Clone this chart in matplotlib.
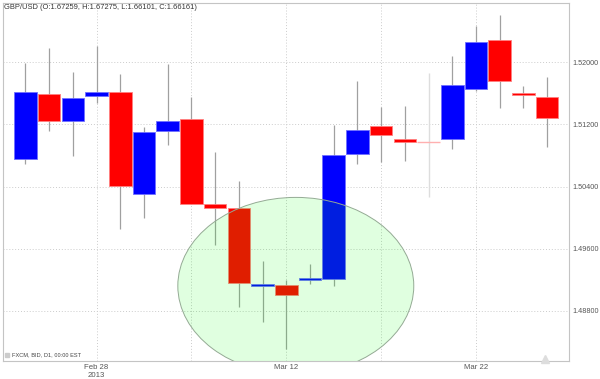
import matplotlib
matplotlib.use("Agg")
import matplotlib.pyplot as plt
from matplotlib.patches import Ellipse

# daily GBP/USD candles, Feb 25 - Mar 27 2013
opens = [1.50758, 1.51596, 1.51248, 1.51570, 1.51621, 1.50304, 1.51119, 1.51270,
         1.50175, 1.50127, 1.49119, 1.49132, 1.49196, 1.49209, 1.50815, 1.51176,
         1.51012, 1.50974, 1.51016, 1.51660, 1.52283, 1.51596, 1.51553]
highs = [1.51995, 1.52180, 1.51871, 1.52210, 1.51849, 1.51171, 1.51982, 1.51557,
         1.50845, 1.50471, 1.49441, 1.49196, 1.49402, 1.51192, 1.51759, 1.51428,
         1.51437, 1.51866, 1.52085, 1.52471, 1.52613, 1.51699, 1.51811]
lows = [1.50686, 1.51119, 1.50797, 1.51480, 1.49849, 1.49991, 1.50939, 1.50170,
        1.49647, 1.48852, 1.48659, 1.48311, 1.49148, 1.49115, 1.50686, 1.50720,
        1.50733, 1.50269, 1.50883, 1.51634, 1.51415, 1.51408, 1.50913]
closes = [1.51614, 1.51248, 1.51540, 1.51617, 1.50411, 1.51102, 1.51244, 1.50179,
          1.50127, 1.49154, 1.49145, 1.49007, 1.49222, 1.50812, 1.51128, 1.51064,
          1.50977, 1.50974, 1.51708, 1.52261, 1.51759, 1.51579, 1.51283]

tick_idx = [3, 7, 11, 15, 19]
tick_labels = ["Feb 28\n2013", "", "Mar 12", "", "Mar 22"]
y_ticks = [1.488, 1.496, 1.504, 1.512, 1.520]

title = "GBP/USD (O:1.67259, H:1.67275, L:1.66101, C:1.66161)"
footer = "FXCM, BID, D1, 00:00 EST"

plt.rcParams["font.family"] = ["Liberation Sans", "DejaVu Sans"]

fig = plt.figure(figsize=(6, 3.79), dpi=100)
ax = fig.add_axes([0.0045, 0.0475, 0.9438, 0.9459])

x = list(range(len(opens)))
for i in x:
    o, h, l, c = opens[i], highs[i], lows[i], closes[i]
    if o == c:
        ax.vlines(i, l, h, color="#dddddd", lw=1, zorder=2)
        ax.hlines(c, i - 0.47, i + 0.47, color="#ffb0b0", lw=1, zorder=3)
        continue
    up = c > o
    face = "#0000ff" if up else "#ff0000"
    edge = "#7070ff" if up else "#ff8080"
    ax.vlines(i, l, h, color="#a0a0a0", lw=0.9, zorder=2)
    lo, hi = min(o, c), max(o, c)
    ax.bar(i, max(hi - lo, 0.00022), bottom=lo, width=0.95, color=face,
           edgecolor=edge, linewidth=0.6, zorder=3)

# highlight ellipse around the bottom
ax.add_patch(Ellipse((11.40, 1.4912), 9.95, 0.0228, facecolor=(0, 1, 0, 0.12),
                     edgecolor="#94aa94", lw=0.7, zorder=5))

ax.set_xlim(-0.96, 22.92)
ax.set_ylim(1.48153, 1.52770)

ax.set_xticks(tick_idx)
ax.set_xticklabels(tick_labels, fontsize=5.6, color="#555555", linespacing=1.15)
ax.set_yticks(y_ticks)
ax.set_yticklabels([f"{v:.5f}" for v in y_ticks], fontsize=5.2, color="#555555")
ax.yaxis.tick_right()
ax.tick_params(axis="both", length=0, pad=2.5)
ax.grid(True, color="#cccccc", linestyle=(0, (1, 2)), lw=0.7, zorder=0)
ax.set_axisbelow(True)
for s in ax.spines.values():
    s.set_color("#c4c4c4")
    s.set_linewidth(0.8)

ax.text(0.002, 0.985, title, transform=ax.transAxes, fontsize=5.4,
        color="#333333", va="center", ha="left")
ax.plot([0.007], [0.018], marker="s", ms=2.5, color="#cccccc",
        transform=ax.transAxes, clip_on=False)
ax.text(0.016, 0.018, footer, transform=ax.transAxes, fontsize=4.1,
        color="#444444", va="center", ha="left")
ax.plot([0.958], [0.006], marker="^", ms=6, color="#dddddd",
        transform=ax.transAxes, clip_on=False, zorder=6)

fig.savefig("out.png", dpi=100)
